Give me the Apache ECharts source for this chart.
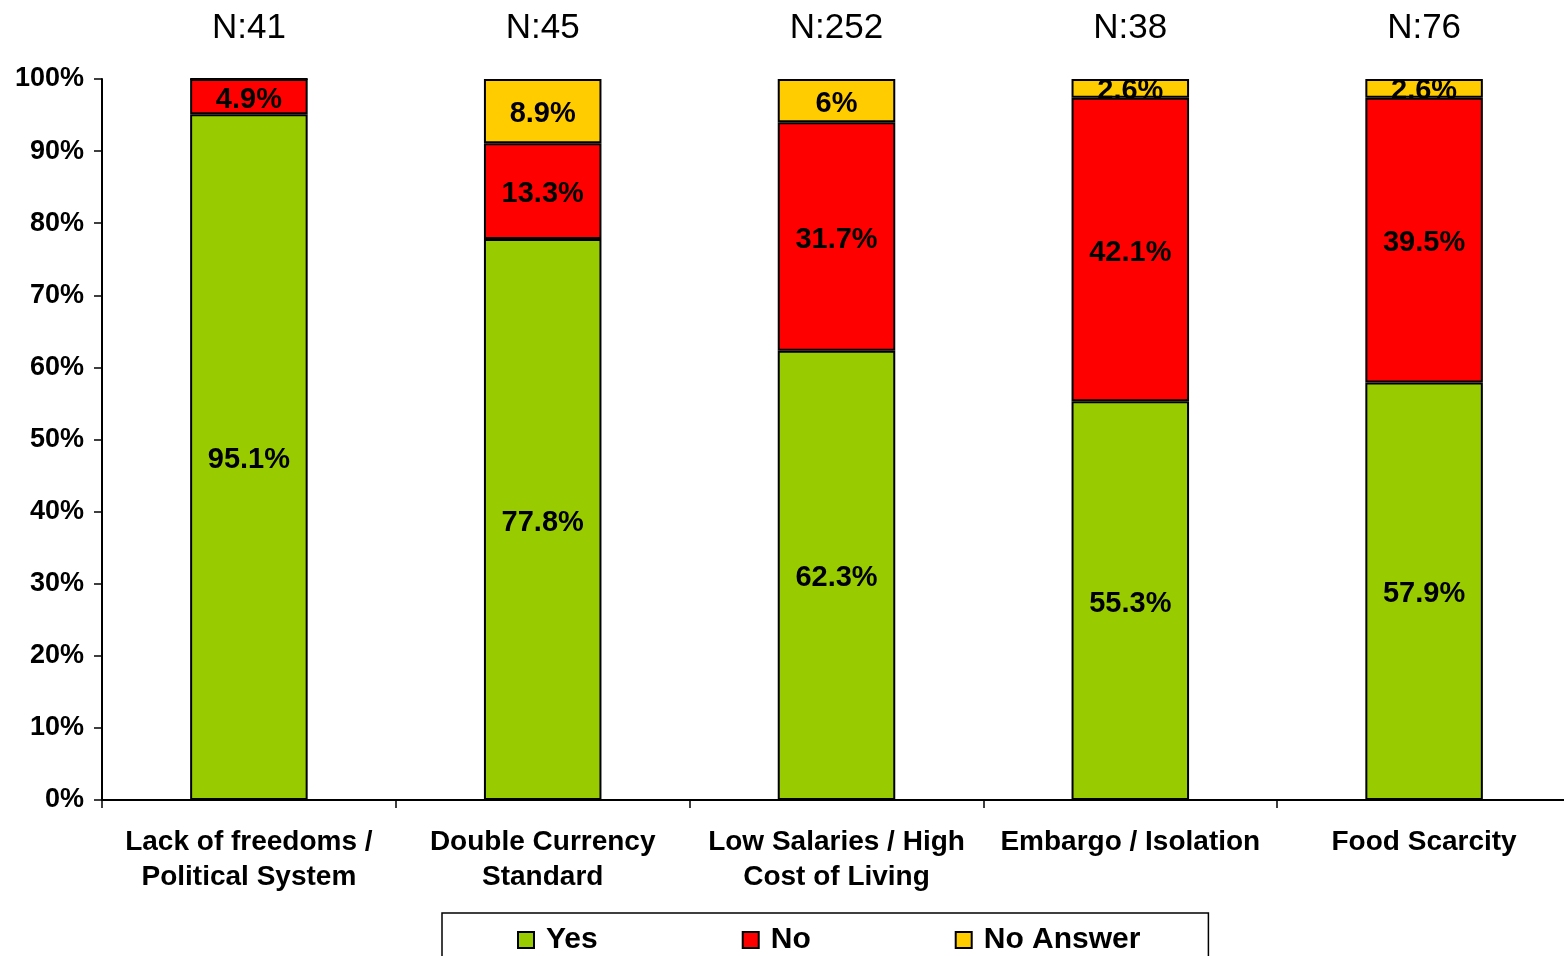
<!DOCTYPE html>
<html>
<head>
<meta charset="utf-8">
<script src="https://cdn.jsdelivr.net/npm/echarts@6/dist/echarts.min.js"></script>
<style>html,body{margin:0;padding:0;background:#fff;}#c{width:1564px;height:956px;}</style>
</head>
<body>
<div id="c"></div>
<script>
const categories = ['Lack of freedoms /\nPolitical System', 'Double Currency\nStandard', 'Low Salaries / High\nCost of Living', 'Embargo / Isolation', 'Food Scarcity'];
const nLabels = ['N:41', 'N:45', 'N:252', 'N:38', 'N:76'];
const yesValues = [95.1, 77.8, 62.3, 55.3, 57.9];
const noValues = [4.9, 13.3, 31.7, 42.1, 39.5];
const noAnswerValues = [0, 8.9, 6, 2.6, 2.6];
const seriesNames = ['Yes', 'No', 'No Answer'];
const seriesColors = ['#99CC00', '#FF0000', '#FFCC00'];

const font = 'Liberation Sans, Arial, sans-serif';
const chart = echarts.init(document.getElementById('c'), null, {renderer: 'canvas'});
const dataSets = [yesValues, noValues, noAnswerValues];
chart.setOption({
  animation: false,
  backgroundColor: '#ffffff',
  textStyle: {fontFamily: font},
  grid: {left: 102, width: 1469, top: 79, height: 721, containLabel: false, outerBoundsMode: 'none'},
  legend: {
    data: seriesNames,
    top: 913,
    left: 442,
    orient: 'horizontal',
    itemWidth: 16,
    itemHeight: 16,
    itemGap: 144,
    padding: [12, 68, 20, 75],
    borderColor: '#000',
    borderWidth: 1.5,
    textStyle: {fontFamily: font, fontWeight: 'bold', fontSize: 30, color: '#000', padding: [0, 0, 0, 7]},
    icon: 'rect'
  },
  xAxis: [
    {
      type: 'category',
      data: categories,
      position: 'bottom',
      axisLine: {lineStyle: {color: '#000', width: 2}},
      axisTick: {show: true, length: 8, lineStyle: {color: '#000', width: 1.5}},
      axisLabel: {fontFamily: font, fontWeight: 'bold', fontSize: 28, color: '#000', lineHeight: 35, margin: 25, interval: 0}
    },
    {
      type: 'category',
      data: nLabels,
      position: 'top',
      axisLine: {show: false},
      axisTick: {show: false},
      axisLabel: {fontFamily: font, fontSize: 35, color: '#000', margin: 33, interval: 0}
    }
  ],
  yAxis: {
    type: 'value',
    min: 0, max: 100, interval: 10,
    axisLine: {show: true, lineStyle: {color: '#000', width: 2}},
    axisTick: {show: true, length: 8, lineStyle: {color: '#000', width: 1.5}},
    splitLine: {show: false},
    axisLabel: {formatter: '{value}%', fontFamily: font, fontWeight: 'bold', fontSize: 27, color: '#000', margin: 18}
  },
  series: seriesNames.map((name, i) => ({
    name: name,
    type: 'bar',
    stack: 'total',
    xAxisIndex: 0,
    barWidth: '40%',
    data: dataSets[i],
    itemStyle: {color: seriesColors[i], borderColor: '#000', borderWidth: 2},
    label: {
      show: true,
      position: 'inside',
      offset: [0, 3],
      color: '#000',
      fontFamily: font,
      fontWeight: 'bold',
      fontSize: 29,
      formatter: p => p.value > 0 ? p.value + '%' : ''
    }
  }))
});
</script>
</body>
</html>
